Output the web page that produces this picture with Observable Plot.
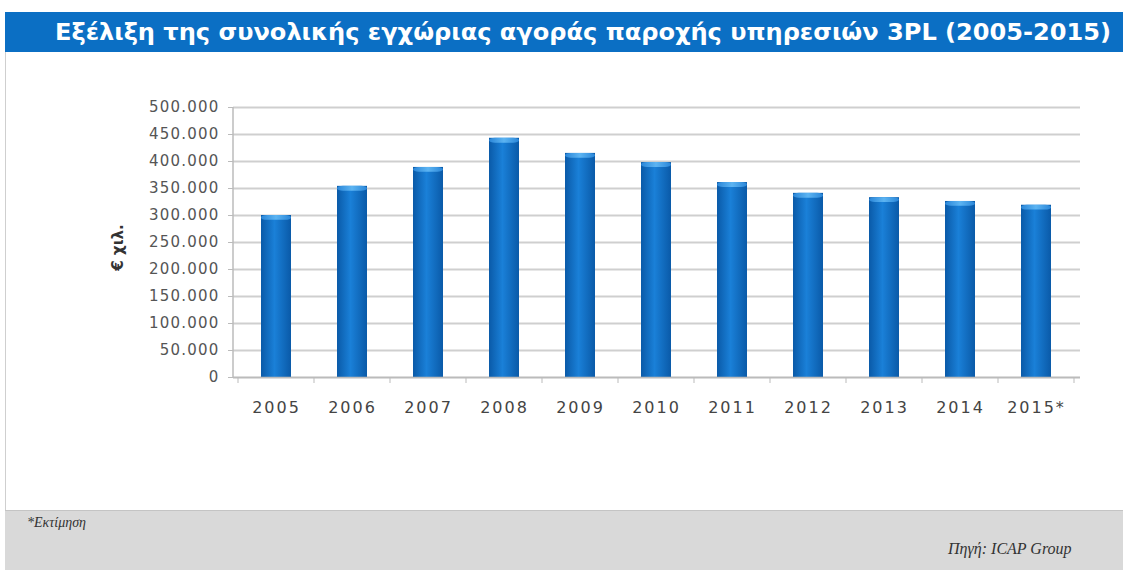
<!DOCTYPE html>
<html><head><meta charset="utf-8">
<script src="https://cdn.jsdelivr.net/npm/d3@7"></script>
<script src="https://cdn.jsdelivr.net/npm/@observablehq/plot@0.6"></script>
<style>
html,body{margin:0;padding:0;background:#fff;}
#wrap{position:relative;width:1123px;height:570px;overflow:hidden;font-family:"DejaVu Sans",Verdana,sans-serif;}
#title{position:absolute;left:5px;top:12px;width:1118px;height:40px;background:#0b6fc4;color:#fff;font-family:"DejaVu Sans Condensed","DejaVu Sans",sans-serif;font-weight:bold;font-size:23px;line-height:40px;white-space:nowrap;}
#title span{position:absolute;left:50px;top:0;transform-origin:0 50%;}
#border{position:absolute;left:5px;top:52px;width:1px;height:458px;background:#cfcfcf;}
#chart{position:absolute;left:0;top:52px;}
#footer{position:absolute;left:5px;top:510px;width:1118px;height:60px;background:#d9d9d9;border-top:1px solid #c4c4c4;font-family:"Liberation Serif",serif;font-style:italic;color:#333;}
#note{position:absolute;left:22px;top:4px;font-size:14px;}
#src{position:absolute;left:943px;top:29px;font-size:16px;white-space:nowrap;}
.ytl text{letter-spacing:1.2px;}
.xtl text{letter-spacing:2px;}
</style></head>
<body>
<div id="wrap">
  <div id="title"><span id="ttext">Εξέλιξη της συνολικής εγχώριας αγοράς παροχής υπηρεσιών 3PL (2005-2015)</span></div>
  <div id="border"></div>
  <div id="chart"></div>
  <div id="footer"><div id="note">*Εκτίμηση</div><div id="src">Πηγή: ICAP Group</div></div>
</div>
<script>
const years = ["2005","2006","2007","2008","2009","2010","2011","2012","2013","2014","2015*"];
const values = [300000, 354000, 389000, 443000, 415000, 398000, 361000, 341000, 333000, 326000, 319000];
const yTicks = [0,50000,100000,150000,200000,250000,300000,350000,400000,450000,500000];

const data = years.map((y,i)=>({year:y, value:values[i]}));
const fmt = d3.formatLocale({decimal:",", thousands:".", grouping:[3], currency:["","€"]}).format(",");

const plot = Plot.plot({
  width: 1123,
  height: 458,
  marginTop: 55,
  marginBottom: 133,
  marginLeft: 233,
  marginRight: 43,
  style: {fontFamily: "DejaVu Sans, sans-serif", fontSize: "15px", color: "#555", background: "transparent"},
  x: {domain: years, paddingInner: 0.6, paddingOuter: 0.35, label: null},
  y: {domain: [0, 500000], label: null},
  marks: [
    Plot.gridY(yTicks, {stroke: "#cfcfcf", strokeOpacity: 1, strokeWidth: 2}),
    Plot.axisY(yTicks, {tickFormat: fmt, tickSize: 5, tickPadding: 9, stroke: "#bbb", fill: "#555", fontSize: 15, className: "ytl"}),
    Plot.barY(data, {x: "year", y: "value", fill: "url(#barGrad)"}),
    Plot.barY(data, {x: "year", y1: d => d.value - 9000, y2: "value", fill: "url(#capGrad)", rx: 6}),
    Plot.axisX({tickSize: 0, tickPadding: 24, fill: "#444", fontSize: 16, className: "xtl"}),
    Plot.ruleY([0], {stroke: "#bbb", strokeWidth: 1.5}),
    Plot.text(["€ χιλ."], {frameAnchor: "left", dx: -115, dy: 5, rotate: -90, textAnchor: "middle", fontSize: 15, fill: "#333", fontWeight: "bold"})
  ]
});
document.getElementById("chart").appendChild(plot);

const svg = d3.select(plot);
const defs = svg.insert("defs", ":first-child");
const g = defs.append("linearGradient").attr("id","barGrad").attr("x1","0").attr("x2","1").attr("y1","0").attr("y2","0");
g.append("stop").attr("offset","0%").attr("stop-color","#0a5aa8");
g.append("stop").attr("offset","45%").attr("stop-color","#1a80d8");
g.append("stop").attr("offset","100%").attr("stop-color","#0a5aa8");
const c = defs.append("linearGradient").attr("id","capGrad").attr("x1","0").attr("x2","1").attr("y1","0").attr("y2","0");
c.append("stop").attr("offset","0%").attr("stop-color","#2a86d8");
c.append("stop").attr("offset","50%").attr("stop-color","#5cb4f2");
c.append("stop").attr("offset","100%").attr("stop-color","#2a86d8");

svg.append("line").attr("x1",233).attr("x2",233).attr("y1",55).attr("y2",325).attr("stroke","#bbb").attr("stroke-width",1.5);
const xs = plot.scale("x");
const bw = xs.step;
years.forEach((y,i)=>{
  const xb = xs.apply(y) - (bw - xs.bandwidth)/2;
  svg.append("line").attr("x1",xb).attr("x2",xb).attr("y1",325).attr("y2",331).attr("stroke","#bbb");
});
const last = xs.apply(years[years.length-1]) + xs.bandwidth + (bw - xs.bandwidth)/2;
svg.append("line").attr("x1",last).attr("x2",last).attr("y1",325).attr("y2",331).attr("stroke","#bbb");

const t = document.getElementById("ttext");
const w = t.getBoundingClientRect().width;
t.style.transform = `scaleX(${1056 / w})`;
</script>
</body></html>
